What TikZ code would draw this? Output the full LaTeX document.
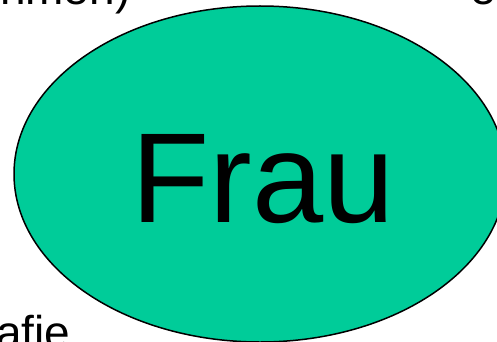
\documentclass[tikz,border=0pt]{standalone}
\usepackage{fontspec}
\setmainfont{Liberation Sans}
\usetikzlibrary{shapes.geometric}
\definecolor{fraugreen}{HTML}{00CC99}
\tikzset{
  bigell/.style={ellipse, draw=black, line width=1.5pt, fill=fraugreen, inner sep=0pt, outer sep=0pt},
  sidetext/.style={anchor=base west, inner sep=0pt, outer sep=0pt, font=\fontsize{46}{50}\selectfont},
  maintext/.style={anchor=base west, inner sep=0pt, outer sep=0pt, font=\fontsize{128}{130}\selectfont}
}
\begin{document}
\begin{tikzpicture}[x=1pt,y=-1pt]
  \useasboundingbox (0,0) rectangle (497,342);
  \node[sidetext] (tl) at (0,5) {nmen)};
  \node[sidetext] (tr) at (470,5) {e};
  \node[sidetext] (bl) at (-4,348) {afie};
  \node[bigell, minimum width=492pt, minimum height=336pt] (ell) at (260,174) {};
  \node[maintext] (frau) at (131.5,222.7) {Frau};
\end{tikzpicture}
\end{document}
